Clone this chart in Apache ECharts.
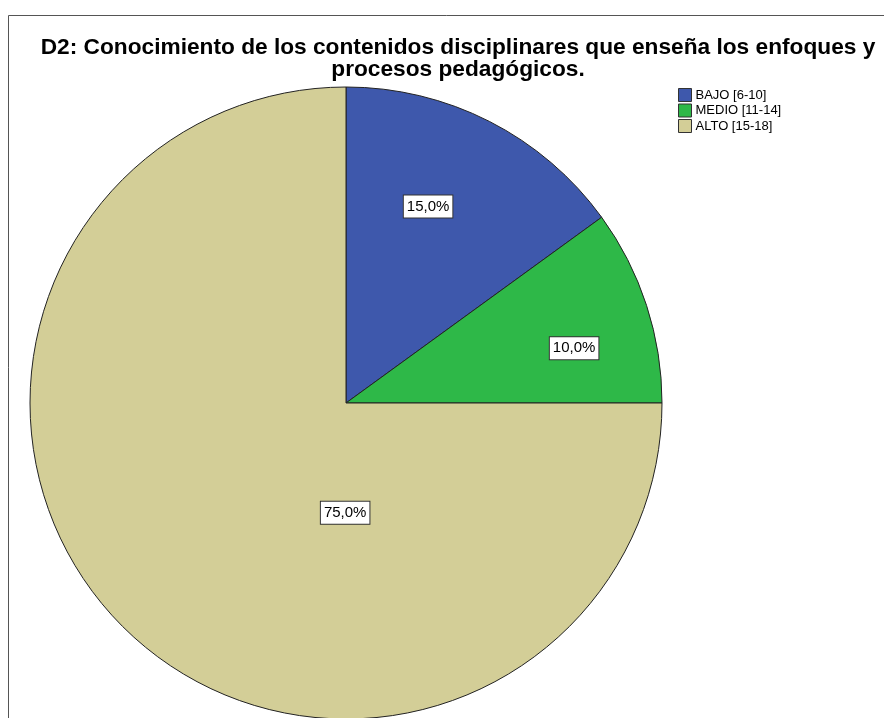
<!DOCTYPE html>
<html><head><meta charset="utf-8">
<script src="https://cdn.jsdelivr.net/npm/echarts@6/dist/echarts.min.js"></script>
<style>html,body{margin:0;padding:0;background:#fff}#c{width:884px;height:718px}</style>
</head><body><div id="c"></div>
<script>
const titleText = 'D2: Conocimiento de los contenidos disciplinares que enseña los enfoques y\nprocesos pedagógicos.';
const categories = ['BAJO [6-10]', 'MEDIO [11-14]', 'ALTO [15-18]'];
const values = [15, 10, 75];
const colors = ['#3E58AC', '#2EB848', '#D3CE97'];
const labelOffsets = [[9, -53], [75, -5], [113, -4]];

const chart = echarts.init(document.getElementById('c'), null, {renderer: 'canvas'});
chart.setOption({
  animation: false,
  graphic: [{
    type: 'rect', shape: {x: 8.5, y: 15.5, width: 900, height: 800},
    style: {fill: 'none', stroke: '#555', lineWidth: 1}, silent: true, z: 0
  }],
  title: {
    text: titleText, left: 453, top: 32, textAlign: 'center',
    textStyle: {fontFamily: 'Liberation Sans, Arial, sans-serif', fontSize: 22.7, fontWeight: 'bold', color: '#000', lineHeight: 22}
  },
  legend: {
    orient: 'vertical', left: 673, top: 83, icon: 'rect', itemWidth: 13, itemHeight: 13, itemGap: 1.5,
    textStyle: {fontFamily: 'Liberation Sans, Arial, sans-serif', fontSize: 13, color: '#000', padding: [0,0,0,-1]},
    itemStyle: {borderColor: '#333', borderWidth: 1},
    data: categories
  },
  series: [{
    type: 'pie', center: [346, 403], radius: 316, startAngle: 90, clockwise: true,
    avoidLabelOverlap: false,
    itemStyle: {borderColor: '#222', borderWidth: 1},
    label: {
      position: 'inside', formatter: p => p.value.toFixed(1).replace('.', ',') + '%',
      fontFamily: 'Liberation Sans, Arial, sans-serif', fontSize: 15, color: '#000',
      backgroundColor: '#fff', borderColor: '#333', borderWidth: 1, padding: [4, 3, 3, 3]
    },
    labelLine: {show: false},
    emphasis: {disabled: true},
    data: categories.map((n, i) => ({name: n, value: values[i], itemStyle: {color: colors[i]}, label: {offset: labelOffsets[i]}}))
  }]
});
</script></body></html>
